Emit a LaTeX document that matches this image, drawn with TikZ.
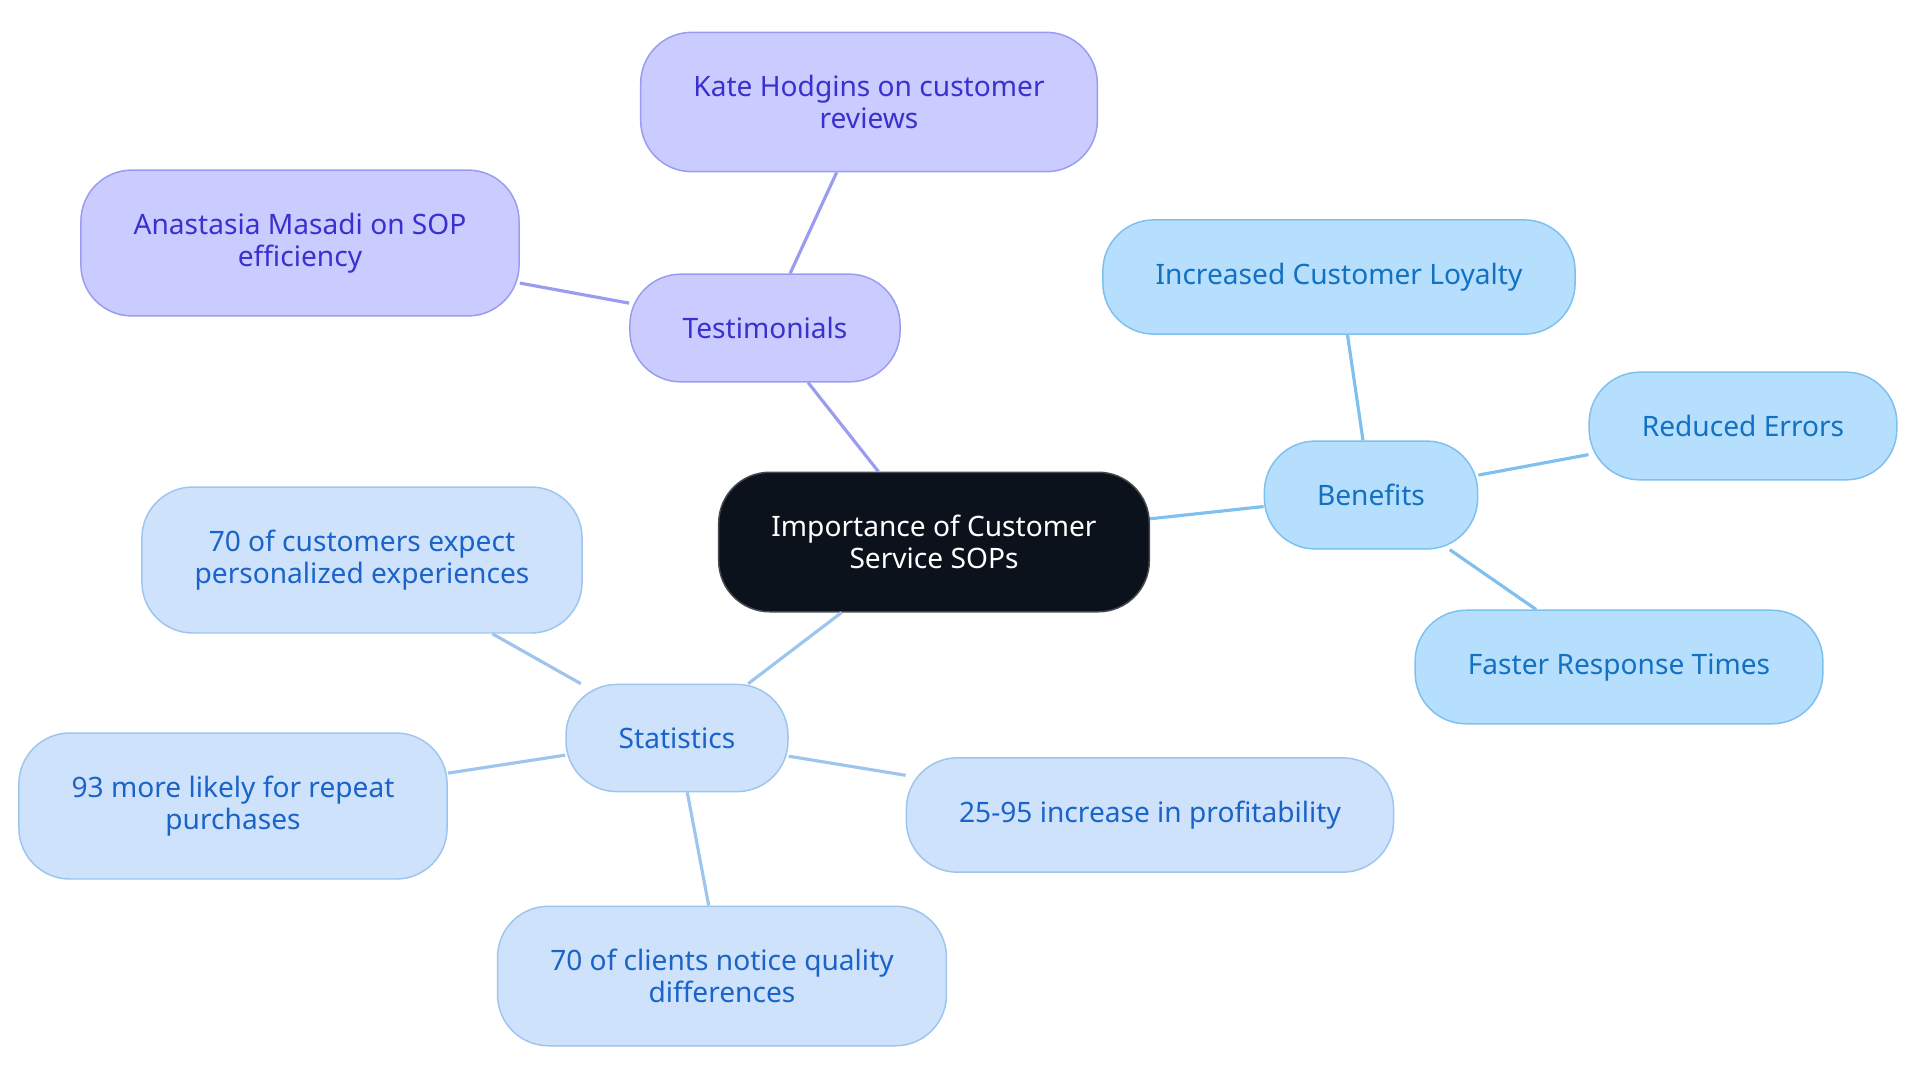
\documentclass[tikz,border=0pt]{standalone}
\usepackage{fontspec}
\setmainfont{Noto Sans}

\definecolor{hubfill}{HTML}{0C121C}
\definecolor{hubline}{HTML}{454A52}
\definecolor{testfill}{HTML}{CACBFE}
\definecolor{testline}{HTML}{9A9CF0}
\definecolor{testtext}{HTML}{3A30CF}
\definecolor{benfill}{HTML}{B5DFFD}
\definecolor{benline}{HTML}{7EC0EE}
\definecolor{bentext}{HTML}{1470C0}
\definecolor{statfill}{HTML}{CEE3FB}
\definecolor{statline}{HTML}{9EC5EE}
\definecolor{stattext}{HTML}{1A63C8}

\tikzset{
  idea/.style={rounded corners=29pt, align=center, inner xsep=30pt, inner ysep=24.5pt,
    minimum height=61pt, line width=0.85pt, font=\fontsize{16}{18}\selectfont},
  hub/.style={idea, fill=hubfill, draw=hubline, text=white},
  testbox/.style={idea, fill=testfill, draw=testline, text=testtext},
  benbox/.style={idea, fill=benfill, draw=benline, text=bentext},
  statbox/.style={idea, fill=statfill, draw=statline, text=stattext},
  testlink/.style={draw=testline, line width=1.8pt},
  benlink/.style={draw=benline, line width=1.8pt},
  statlink/.style={draw=statline, line width=1.8pt}
}

\begin{document}
\begin{tikzpicture}[x=0.02cm,y=-0.02cm]
  \useasboundingbox (0,0) rectangle (1920,1083);
  % centre
  \node [hub] (sops) at (934,542) {Importance of Customer\\Service SOPs};
  % testimonials
  \node [testbox] (testi) at (765,328) {Testimonials};
  \node [testbox] (kate) at (869,102) {Kate Hodgins on customer\\reviews};
  \node [testbox] (anast) at (300,243) {Anastasia Masadi on SOP\\efficiency};
  % benefits
  \node [benbox] (bene) at (1371,495) {Benefits};
  \node [benbox] (loyal) at (1339,277) {Increased Customer Loyalty};
  \node [benbox] (errors) at (1743,426) {Reduced Errors};
  \node [benbox] (faster) at (1619,667) {Faster Response Times};
  % statistics
  \node [statbox] (stats) at (677,738) {Statistics};
  \node [statbox] (person) at (362,560) {70 of customers expect\\personalized experiences};
  \node [statbox] (repeat) at (233,806) {93 more likely for repeat\\purchases};
  \node [statbox] (quality) at (722,976) {70 of clients notice quality\\differences};
  \node [statbox] (profit) at (1150,815) {25-95 increase in profitability};

  \draw [testlink] (sops)--(testi);
  \draw [testlink] (testi)--(kate);
  \draw [testlink] (testi)--(anast);
  \draw [benlink] (sops)--(bene);
  \draw [benlink] (bene)--(loyal);
  \draw [benlink] (bene)--(errors);
  \draw [benlink] (bene)--(faster);
  \draw [statlink] (sops)--(stats);
  \draw [statlink] (stats)--(person);
  \draw [statlink] (stats)--(repeat);
  \draw [statlink] (stats)--(quality);
  \draw [statlink] (stats)--(profit);
\end{tikzpicture}
\end{document}
